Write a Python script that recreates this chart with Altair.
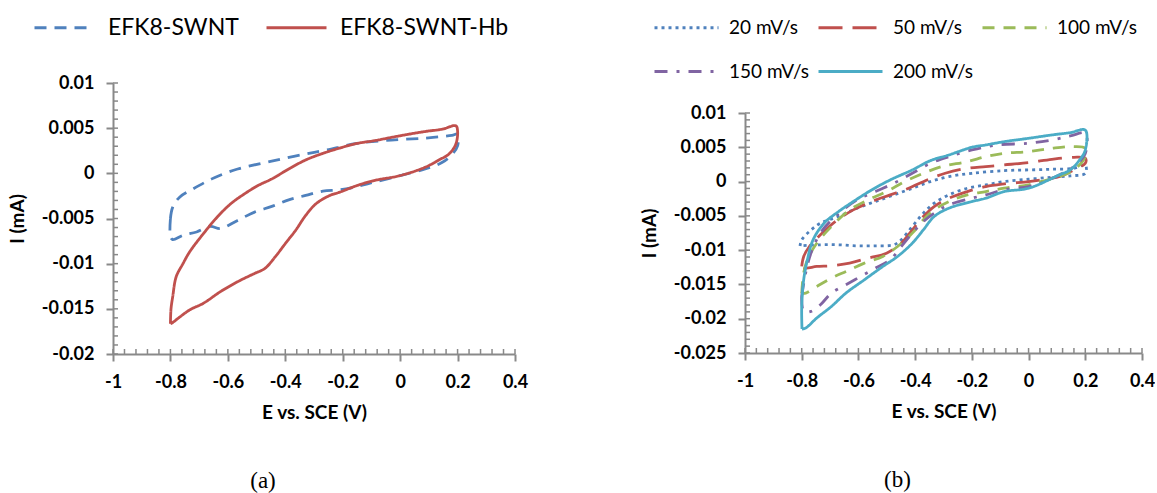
import altair as alt
import pandas as pd

# ---------------- data: panel (a) ----------------
names_a = ["EFK8-SWNT", "EFK8-SWNT-Hb"]

swnt_E = [-0.800, -0.792, -0.768, -0.721, -0.649, -0.566, -0.483, -0.412, -0.329, -0.257, -0.150,
          -0.031, 0.087, 0.180, 0.200, 0.200, 0.182, 0.147, 0.087, 0.000, -0.091, -0.150, -0.210,
          -0.269, -0.329, -0.388, -0.447, -0.507, -0.566, -0.626, -0.661, -0.709, -0.756, -0.792,
          -0.800, -0.800]
swnt_I = [-0.0050, -0.00374, -0.00264, -0.00172, -0.00051, 0.00048, 0.00111, 0.00159, 0.00214,
          0.00258, 0.00331, 0.00368, 0.0039, 0.0042, 0.00434, 0.00305, 0.00214, 0.00122, 0.00048,
          -0.00025, -0.00098, -0.00146, -0.00183, -0.00197, -0.00245, -0.00293, -0.00366, -0.00429,
          -0.00521, -0.00612, -0.00587, -0.00649, -0.00686, -0.00733, -0.0070, -0.0050]

hb_E = [-0.800, -0.798, -0.792, -0.780, -0.756, -0.733, -0.685, -0.637, -0.590, -0.542, -0.495,
        -0.447, -0.388, -0.329, -0.269, -0.210, -0.150, -0.091, 0.000, 0.087, 0.147, 0.194, 0.200,
        0.194, 0.170, 0.135, 0.087, 0.000, -0.091, -0.150, -0.210, -0.245, -0.293, -0.329, -0.364,
        -0.400, -0.435, -0.471, -0.507, -0.566, -0.626, -0.685, -0.733, -0.768, -0.792, -0.800]
hb_I = [-0.01666, -0.0150, -0.01365, -0.01145, -0.00998, -0.00869, -0.00667, -0.00484, -0.00337,
        -0.00227, -0.00135, -0.00062, 0.00048, 0.00148, 0.00221, 0.0028, 0.00331, 0.00361, 0.00416,
        0.00463, 0.00489, 0.00526, 0.0047, 0.00324, 0.00214, 0.00148, 0.00067, -0.00025, -0.0008,
        -0.00135, -0.00208, -0.00245, -0.00337, -0.00466, -0.00631, -0.00778, -0.00924, -0.01053,
        -0.01108, -0.012, -0.0131, -0.01438, -0.01512, -0.01592, -0.01651, -0.01666]

# ---------------- data: panel (b) ----------------
names_b = ["20 mV/s", "50 mV/s", "100 mV/s", "150 mV/s", "200 mV/s"]

s20_E = [-0.806, -0.800, -0.773, -0.734, -0.670, -0.605, -0.540, -0.475, -0.410, -0.346, -0.281,
         -0.200, -0.086, 0.000, 0.082, 0.160, 0.200, 0.200, 0.147, 0.082, 0.000, -0.086, -0.151,
         -0.216, -0.281, -0.333, -0.371, -0.410, -0.449, -0.475, -0.540, -0.605, -0.670, -0.734,
         -0.800, -0.806]
s20_I = [-0.0094, -0.0085, -0.00728, -0.00607, -0.0051, -0.00388, -0.00291, -0.00194, -0.00097,
         0.0, 0.00073, 0.00121, 0.0016, 0.0017, 0.0018, 0.00194, 0.00243, 0.00121, 0.00083, 0.00063,
         0.00034, 0.0, -0.00049, -0.00097, -0.00194, -0.00316, -0.00461, -0.00655, -0.0085,
         -0.00922, -0.00937, -0.00937, -0.00922, -0.00922, -0.00937, -0.0094]

s50_E = [-0.800, -0.793, -0.773, -0.734, -0.682, -0.618, -0.553, -0.488, -0.423, -0.358, -0.294,
         -0.216, -0.151, -0.086, 0.000, 0.082, 0.160, 0.200, 0.200, 0.160, 0.108, 0.043, 0.000,
         -0.086, -0.151, -0.216, -0.281, -0.333, -0.371, -0.410, -0.449, -0.501, -0.566, -0.631,
         -0.695, -0.747, -0.786, -0.800]
s50_I = [-0.01238, -0.01092, -0.00947, -0.00777, -0.00583, -0.00413, -0.00291, -0.00194, -0.00097,
         0.00024, 0.00121, 0.00194, 0.00218, 0.00243, 0.00277, 0.00325, 0.00354, 0.0034, 0.00267,
         0.0017, 0.00073, 0.00024, 0.0, -0.00034, -0.00073, -0.00146, -0.00243, -0.00364, -0.0051,
         -0.00704, -0.00898, -0.01044, -0.01116, -0.01189, -0.01228, -0.01238, -0.01262, -0.01238]

s100_E = [-0.800, -0.793, -0.780, -0.747, -0.695, -0.631, -0.566, -0.501, -0.436, -0.371, -0.307,
          -0.216, -0.151, -0.086, 0.000, 0.082, 0.160, 0.200, 0.200, 0.160, 0.108, 0.043, 0.000,
          -0.086, -0.151, -0.216, -0.281, -0.333, -0.371, -0.410, -0.462, -0.514, -0.579, -0.644,
          -0.695, -0.747, -0.786, -0.800]
s100_I = [-0.0163, -0.0133, -0.0114, -0.009, -0.00655, -0.00413, -0.00267, -0.00146, 0.0, 0.00121,
          0.00218, 0.00291, 0.00364, 0.00413, 0.00437, 0.00485, 0.0051, 0.00485, 0.00364, 0.0017,
          0.00073, 0.0, -0.00049, -0.00097, -0.00146, -0.00194, -0.00291, -0.00413, -0.00558,
          -0.00752, -0.00947, -0.01092, -0.01189, -0.01311, -0.01408, -0.01529, -0.01626, -0.0163]

s150_E = [-0.800, -0.786, -0.767, -0.734, -0.682, -0.605, -0.540, -0.475, -0.410, -0.346, -0.281,
          -0.200, -0.112, 0.000, 0.082, 0.147, 0.200, 0.200, 0.160, 0.108, 0.043, 0.000, -0.086,
          -0.151, -0.200, -0.281, -0.333, -0.371, -0.410, -0.449, -0.488, -0.540, -0.592, -0.644,
          -0.695, -0.734, -0.767, -0.793, -0.800]
s150_I = [-0.0167, -0.0133, -0.0104, -0.0075, -0.0051, -0.00267, -0.00146, -0.00024, 0.00121,
          0.00267, 0.00364, 0.00461, 0.00534, 0.00558, 0.00607, 0.00665, 0.00704, 0.0041, 0.00218,
          0.00097, -0.00024, -0.00073, -0.00121, -0.00194, -0.00243, -0.0034, -0.00461, -0.00583,
          -0.00752, -0.00947, -0.01141, -0.01262, -0.01383, -0.01505, -0.01626, -0.01796, -0.01893,
          -0.01893, -0.0167]

s200_E = [-0.799, -0.800, -0.793, -0.780, -0.760, -0.721, -0.670, -0.618, -0.553, -0.488, -0.410,
          -0.346, -0.281, -0.200, -0.151, -0.086, 0.000, 0.082, 0.147, 0.200, 0.200, 0.180, 0.147,
          0.108, 0.000, -0.086, -0.151, -0.200, -0.281, -0.333, -0.371, -0.410, -0.462, -0.514,
          -0.579, -0.644, -0.695, -0.747, -0.786, -0.799]
s200_I = [-0.0215, -0.0182, -0.0143, -0.0114, -0.0085, -0.00607, -0.00437, -0.00291, -0.00121,
          0.00024, 0.0017, 0.00306, 0.00388, 0.005, 0.00534, 0.00582, 0.00631, 0.0068, 0.00714,
          0.0075, 0.0046, 0.00316, 0.0017, 0.00097, -0.00097, -0.00146, -0.00243, -0.00291,
          -0.00388, -0.0051, -0.00704, -0.00898, -0.01092, -0.01238, -0.01432, -0.01626, -0.0182,
          -0.0199, -0.02136, -0.0215]

# ---------------- tick labels ----------------
x_ticks = [-1, -0.8, -0.6, -0.4, -0.2, 0, 0.2, 0.4]
ya_ticks = [-0.02, -0.015, -0.01, -0.005, 0, 0.005, 0.01]
yb_ticks = [-0.025, -0.02, -0.015, -0.01, -0.005, 0, 0.005, 0.01]
x_minor = [round(-1 + 0.04 * k, 2) for k in range(36)]
ya_minor = [round(-0.02 + 0.001 * k, 3) for k in range(31)]
yb_minor = [round(-0.025 + 0.001 * k, 3) for k in range(36)]

AX = "#898989"
FONT = "Lato"


def frame(series):
    rows = []
    for name, es, is_ in series:
        for k, (e, i) in enumerate(zip(es, is_)):
            rows.append({"series": name, "E": e, "I": i, "k": k})
    return pd.DataFrame(rows)


def panel(df, names, colors, dashes, ydom, yticks, yminor, W, H, ytop, leg, caption, cap_dx):
    xscale = alt.Scale(domain=[-1, 0.4], nice=False, zero=False)
    yscale = alt.Scale(domain=ydom, nice=False, zero=False, range=[H, ytop])
    common_axis = dict(grid=False, labelExpr="'' + datum.value", domainColor=AX, domainWidth=2,
                       tickColor=AX, tickWidth=2, tickSize=7, labelFont=FONT, labelFontSize=18,
                       labelFontWeight="bold", labelColor="black", labelFlush=False,
                       labelOverlap=False, titleFont=FONT, titleFontSize=19,
                       titleFontWeight="bold", titleColor="black")
    xaxis = alt.Axis(values=x_ticks, title="E vs. SCE (V)", labelPadding=12, titlePadding=12,
                     **common_axis)
    yaxis = alt.Axis(values=yticks, title="I (mA)", labelPadding=12, titlePadding=14,
                     **common_axis)
    legend = alt.Legend(title=None, **leg)
    lines = alt.Chart(df).mark_line(strokeWidth=2.8, strokeJoin="round",
                                    interpolate="catmull-rom").encode(
        x=alt.X("E:Q", scale=xscale, axis=xaxis),
        y=alt.Y("I:Q", scale=yscale, axis=yaxis),
        color=alt.Color("series:N", scale=alt.Scale(domain=names, range=colors), legend=legend),
        strokeDash=alt.StrokeDash("series:N", scale=alt.Scale(domain=names, range=dashes),
                                  legend=legend),
        order="k:Q",
    )
    xm = alt.Chart(pd.DataFrame({"E": x_minor})).mark_rule(color=AX, strokeWidth=1.5).encode(
        x=alt.X("E:Q", scale=xscale, axis=xaxis), y=alt.value(H), y2=alt.value(H - 5))
    ym = alt.Chart(pd.DataFrame({"I": yminor})).mark_rule(color=AX, strokeWidth=1.5).encode(
        y=alt.Y("I:Q", scale=yscale, axis=yaxis), x=alt.value(0), x2=alt.value(5))
    return alt.layer(lines, xm, ym).properties(
        width=W, height=H,
        title=alt.TitleParams(caption, orient="bottom", font="Liberation Serif", fontSize=23,
                              fontWeight="normal", color="black", anchor="middle",
                              frame="group", dx=cap_dx, offset=48),
    )


df_a = frame([(names_a[0], swnt_E, swnt_I), (names_a[1], hb_E, hb_I)])
df_b = frame([(names_b[0], s20_E, s20_I), (names_b[1], s50_E, s50_I),
              (names_b[2], s100_E, s100_I), (names_b[3], s150_E, s150_I),
              (names_b[4], s200_E, s200_I)])

leg_a = dict(orient="none", legendX=-80, legendY=-87, direction="horizontal", columns=2,
             symbolType="stroke", symbolSize=3600, symbolStrokeWidth=3, labelFont=FONT,
             labelFontSize=23, labelColor="black", labelOffset=12, columnPadding=21,
             padding=0, labelLimit=400)
leg_b = dict(orient="none", legendX=-92, legendY=-89, direction="horizontal", columns=3,
             symbolType="stroke", symbolSize=4096, symbolStrokeWidth=3, labelFont=FONT,
             labelFontSize=19, labelColor="black", labelOffset=9, columnPadding=2,
             rowPadding=-7, padding=0, labelLimit=400)

left = panel(df_a, names_a, ["#4F81BD", "#C0504D"], [[12, 8], [1, 0]],
             [-0.02, 0.01], ya_ticks, ya_minor, 402, 271, 0, leg_a, "(a)", -51)
right = panel(df_b, names_b, ["#4F81BD", "#C0504D", "#9BBB59", "#8064A2", "#4BACC6"],
              [[3, 4], [24, 10], [12, 9], [13, 9, 3, 9], [1, 0]],
              [-0.025, 0.01], yb_ticks, yb_minor, 397, 270, 30, leg_b, "(b)", -46)

chart = alt.concat(left, right, columns=2, align="none", spacing=112).resolve_scale(
    color="independent", strokeDash="independent"
).resolve_legend(color="independent", strokeDash="independent").properties(
    padding={"left": 8, "top": -6, "right": 0, "bottom": 0},
    background="white",
).configure_view(stroke=None)

chart.save("out.html", embed_options={"renderer": "svg", "actions": False})
